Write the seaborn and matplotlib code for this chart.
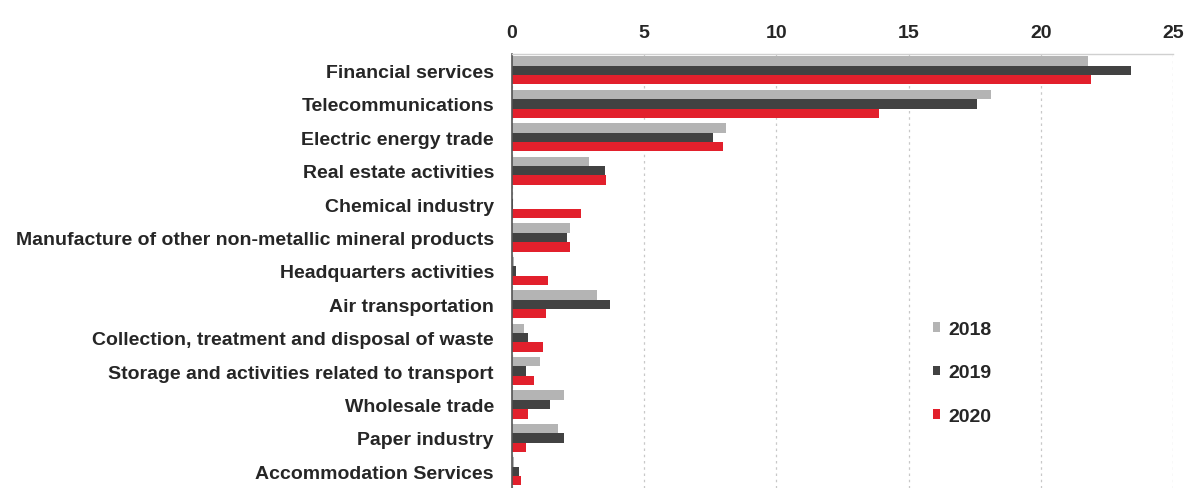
import matplotlib
matplotlib.use("Agg")
import matplotlib.pyplot as plt
import seaborn as sns
import pandas as pd

categories = [
    "Financial services",
    "Telecommunications",
    "Electric energy trade",
    "Real estate activities",
    "Chemical industry",
    "Manufacture of other non-metallic mineral products",
    "Headquarters activities",
    "Air transportation",
    "Collection, treatment and disposal of waste",
    "Storage and activities related to transport",
    "Wholesale trade",
    "Paper industry",
    "Accommodation Services",
]
v2018 = [21.8, 18.1, 8.1, 2.9, 0.0, 2.2, 0.06, 3.2, 0.47, 1.07, 1.95, 1.76, 0.06]
v2019 = [23.4, 17.6, 7.6, 3.5, 0.05, 2.1, 0.15, 3.7, 0.6, 0.54, 1.42, 1.95, 0.25]
v2020 = [21.9, 13.9, 8.0, 3.55, 2.6, 2.2, 1.35, 1.28, 1.16, 0.84, 0.59, 0.54, 0.35]
years = ["2018", "2019", "2020"]
colors = ["#b4b4b4", "#424242", "#e2202c"]

rows = []
for yr, vals in zip(years, [v2018, v2019, v2020]):
    for c, v in zip(categories, vals):
        rows.append({"category": c, "year": yr, "value": v})
df = pd.DataFrame(rows)

sns.set_style("white")
plt.rcParams["font.family"] = ["Liberation Sans", "DejaVu Sans"]

fig = plt.figure(figsize=(11.84, 4.89), dpi=100)
ax = fig.add_axes([0.4324, 0.0, 0.5583, 0.888])
sns.barplot(data=df, y="category", x="value", hue="year", order=categories,
            hue_order=years, palette=colors, orient="h", width=0.84,
            ax=ax, saturation=1, errorbar=None, linewidth=0, edgecolor="none")

ax.set_xlim(0, 25)
ax.set_ylim(12.5, -0.5)
ax.set_xticks([0, 5, 10, 15, 20, 25])
ax.xaxis.tick_top()
ax.xaxis.set_label_position("top")
ax.set_xlabel("")
ax.set_ylabel("")
ax.tick_params(axis="x", length=0, labelsize=14, pad=9)
ax.tick_params(axis="y", length=0, labelsize=14, pad=13)
for lbl in ax.get_xticklabels() + ax.get_yticklabels():
    lbl.set_fontweight("bold")
    lbl.set_color("#262626")

ax.grid(axis="x", linestyle=(0, (2, 3)), color="#c8c8c8", linewidth=0.9)
ax.set_axisbelow(True)
for s in ["right", "bottom"]:
    ax.spines[s].set_visible(False)
ax.spines["left"].set_color("#555555")
ax.spines["left"].set_linewidth(1.2)
ax.spines["top"].set_color("#d0d0d0")
ax.spines["top"].set_linewidth(1.0)

leg = ax.legend(loc="center left", bbox_to_anchor=(0.61, 0.265), frameon=False,
                fontsize=14, labelspacing=1.35, handlelength=0.4,
                handleheight=0.4, handletextpad=0.4)
for t in leg.get_texts():
    t.set_fontweight("bold")
    t.set_color("#262626")

fig.savefig("out.png", dpi=100)
